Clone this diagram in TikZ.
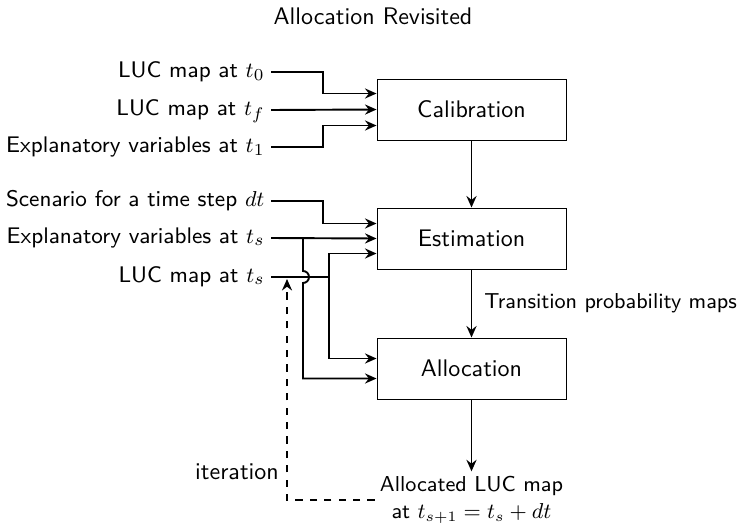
\documentclass[tikz,border=0pt]{standalone}
\usetikzlibrary{arrows.meta,calc}
\begin{document}
\begin{tikzpicture}[x=0.41667pt,y=-0.41667pt,font=\sffamily,
  box/.style={draw,line width=0.4pt,minimum width=78.75pt,minimum height=25.4pt,inner sep=0pt},
  inlabel/.style={anchor=east,inner sep=2.5pt,text height=7pt,text depth=2.5pt,font=\sffamily\fontsize{9.4}{11}\selectfont},
  smalltext/.style={font=\sffamily\fontsize{9}{11.3}\selectfont},
  conn/.style={line width=0.8pt,-{Stealth[length=4.8pt,width=4.2pt,inset=1.6pt]}},
  plain/.style={line width=0.8pt}]
\useasboundingbox (0,0) rectangle (738,526);

\node (title) at (373,16) {Allocation Revisited};

\node[box] (cal) at (471.5,109.5) {Calibration};
\node[box] (est) at (471.5,238.5) {Estimation};
\node[box] (alloc) at (471.5,368.5) {Allocation};

\node[inlabel] (l0) at (271,72) {LUC map at $t_0$};
\node[inlabel] (lf) at (271,110) {LUC map at $t_f$};
\node[inlabel] (l1) at (271,147) {Explanatory variables at $t_1$};
\node[inlabel] (sc) at (271,201) {Scenario for a time step $dt$};
\node[inlabel] (es) at (271,238) {Explanatory variables at $t_s$};
\node[inlabel] (ls) at (271,277) {LUC map at $t_s$};

\node[smalltext,align=center,inner sep=2pt] (out) at (471.5,500) {Allocated LUC map\\at $t_{s+1}=t_s+dt$};

% calibration inputs
\draw[conn] (l0.east) -- ++(52,0) |- ($(cal.west)+(0,-16)$);
\draw[conn] (lf.east) -- (cal.west);
\draw[conn] (l1.east) -- ++(52,0) |- ($(cal.west)+(0,16)$);
\draw[conn] (cal.south) -- (est.north);

% estimation inputs
\draw[conn] (sc.east) -- ++(52,0) |- ($(est.west)+(0,-15)$);
\draw[conn] (es.east) -- (est.west);
\draw[plain] (ls.east) -- ($(ls.east)+(58,0)$);
\draw[conn] ($(ls.east)+(58,0)$) |- ($(est.west)+(0,15)$);
\draw[conn] ($(ls.east)+(58,0)$) |- ($(alloc.west)+(0,-10)$);
\draw[conn] ($(es.east)+(32,0)$) -- ($(ls.east)+(32,-6)$)
  arc[start angle=90,end angle=-90,radius=2.5pt] |- ($(alloc.west)+(0,10)$);

\draw[conn] (est.south) -- node[smalltext,right,inner sep=5pt] {Transition probability maps} (alloc.north);
\draw[conn] (alloc.south) -- (out.north);

% iteration
\draw[conn,dashed] (out.west) -| node[pos=0.565,left,inner sep=3pt] {iteration} ($(ls.east)+(16,2)$);
\end{tikzpicture}
\end{document}
